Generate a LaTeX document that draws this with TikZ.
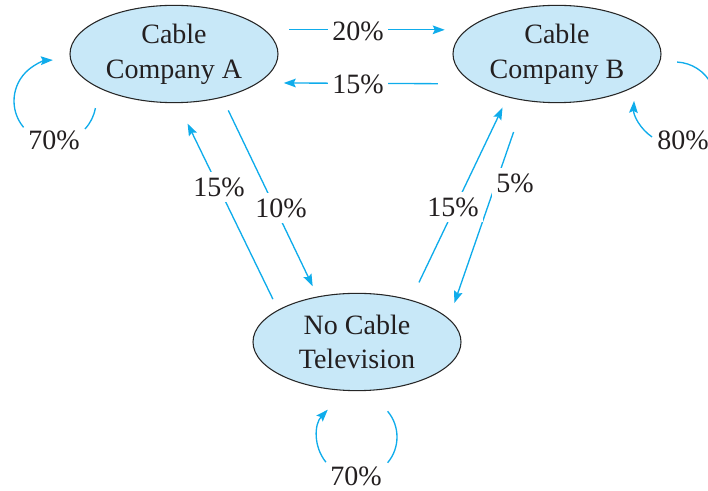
\documentclass[tikz,border=0pt]{standalone}
\usepackage{fontspec}
\setmainfont{Liberation Serif}
\usetikzlibrary{arrows.meta,shapes.geometric}
\definecolor{fillblue}{RGB}{200,232,248}
\definecolor{arrowblue}{RGB}{15,172,235}
\definecolor{textdark}{RGB}{35,31,32}
\begin{document}
\begin{tikzpicture}[x=0.75pt,y=-0.75pt,
  state/.style={ellipse,draw=black!85,line width=0.8pt,fill=fillblue,minimum width=156pt,minimum height=73pt,inner sep=0pt,outer sep=0pt,align=center,text=textdark,font=\fontsize{21}{26}\selectfont},
  flow/.style={draw=arrowblue,line width=1pt,-{Stealth[length=9pt,width=6.5pt,inset=1.5pt]}},
  plain/.style={draw=arrowblue,line width=1pt},
  lab/.style={fill=white,inner xsep=3pt,inner ysep=4pt,text=textdark,font=\fontsize{21}{26}\selectfont},
  looplab/.style={inner sep=0pt,text=textdark,font=\fontsize{21}{26}\selectfont}]
\useasboundingbox (0,0) rectangle (708,491);
\clip (0,0) rectangle (708,491);
\node[state] (A) at (174,54) {Cable\\Company A};
\node[state] (B) at (557,54) {Cable\\Company B};
\node[state] (C) at (357,342) {No Cable\\Television};
% horizontal flows
\draw[flow,shorten <=18.75pt,shorten >=16.5pt] (A.15) -- (B.165);
\draw[flow,shorten <=27.75pt,shorten >=19.5pt] (B.-160.7) -- (A.-19.3);
% diagonal flows
\draw[flow,shorten <=11pt,shorten >=8.9pt] (A.-42.5) -- (C.131.2);
\draw[flow,shorten <=9.2pt,shorten >=17.5pt] (C.158.6) -- (A.-86.5);
\draw[flow,shorten <=14.8pt,shorten >=9pt] (C.38.2) -- (B.-139.8);
\draw[flow,shorten <=25.2pt,shorten >=12.75pt] (B.-125.4) -- (C.14.9);
% labels on flows
\node[lab] (lAB) at (358,31) {20\%};
\node[lab] (lBA) at (358,84) {15\%};
\node[lab] (lAC) at (281,208) {10\%};
\node[lab] (lCA) at (219,187) {15\%};
\node[lab] (lCB) at (453,207) {15\%};
\node[lab] (lBC) at (515,183) {5\%};
% self loops
\coordinate (cA) at (55,101);
\coordinate (cB) at (675,103);
\coordinate (cC) at (357,437);
\draw[plain] ([shift={(cA)}]-10:30.75pt) arc[start angle=-10,end angle=-43,radius=30.75pt];
\draw[flow] ([shift={(cA)}]220:30.75pt) arc[start angle=220,end angle=93,radius=30.75pt];
\draw[plain] ([shift={(cB)}]87:30.75pt) arc[start angle=87,end angle=-15,radius=30.75pt];
\draw[flow] ([shift={(cB)}]236:30.75pt) arc[start angle=236,end angle=177,radius=30.75pt];
\draw[plain] ([shift={(cC)}]40:30pt) arc[start angle=40,end angle=-40,radius=30pt];
\draw[flow] ([shift={(cC)}]219:30pt) arc[start angle=219,end angle=137,radius=30pt];
\node[looplab] (lAA) at (54,140) {70\%};
\node[looplab] (lBB) at (683,140) {80\%};
\node[looplab] (lCC) at (356,476) {70\%};
\end{tikzpicture}
\end{document}
